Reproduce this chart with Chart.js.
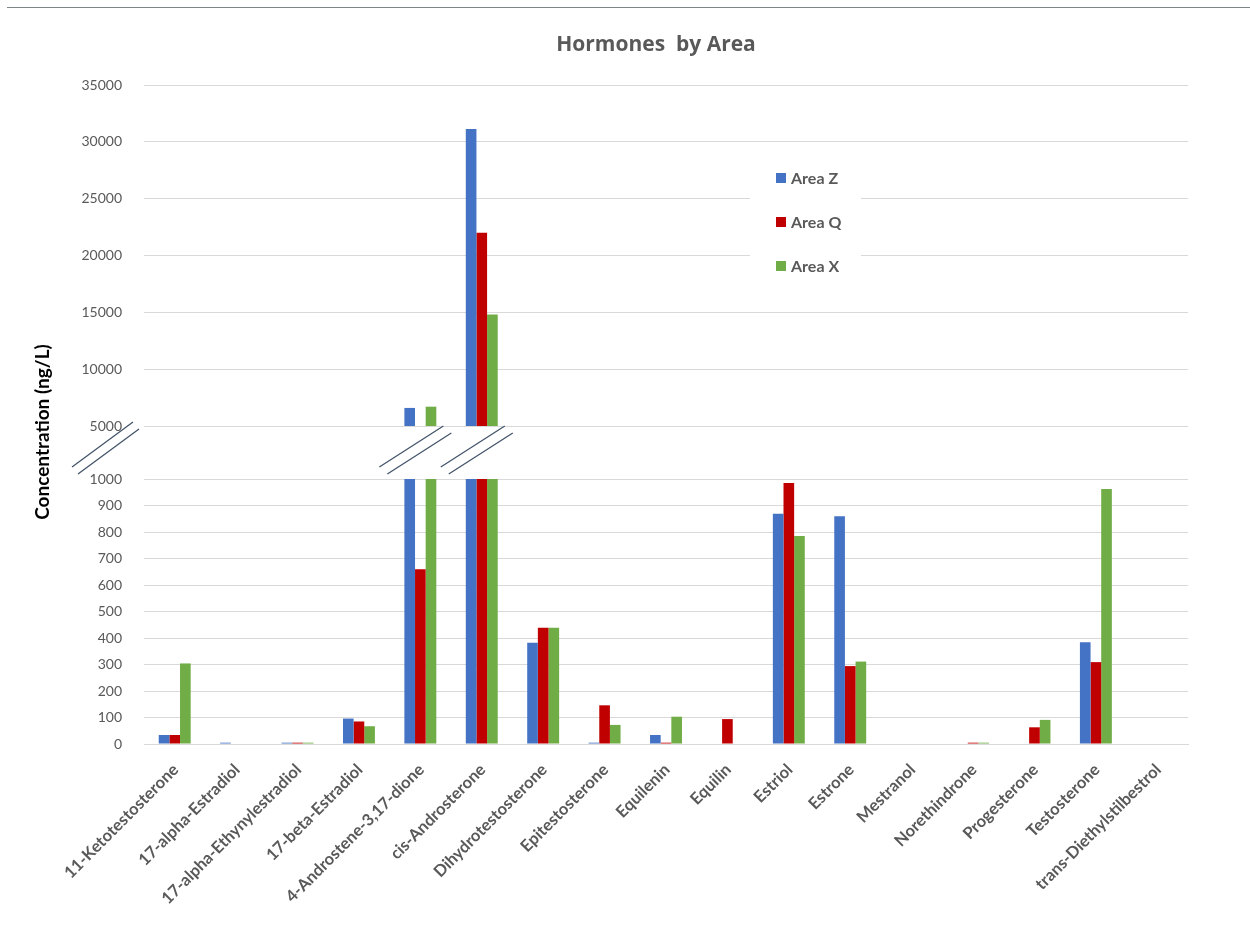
<!DOCTYPE html>
<html>
<head>
<meta charset="utf-8">
<title>Hormones by Area</title>
<script src="https://cdn.jsdelivr.net/npm/chart.js@4.4.1/dist/chart.umd.min.js"></script>
<style>
  html, body { margin: 0; padding: 0; background: #fff; }
  #wrap { position: relative; width: 1250px; height: 932px; overflow: hidden; }
  #wrap canvas { position: absolute; left: 0; top: 0; }
  #rule { position: absolute; left: 7px; right: 0; top: 7px; border-top: 1px solid #7f8487; }
</style>
</head>
<body>
<div id="wrap">
  <div id="rule"></div>
  <canvas id="upperChart" width="1250" height="932"></canvas>
  <canvas id="lowerChart" width="1250" height="932"></canvas>
</div>
<script>
const hormones = [
  "11-Ketotestosterone", "17-alpha-Estradiol", "17-alpha-Ethynylestradiol", "17-beta-Estradiol",
  "4-Androstene-3,17-dione", "cis-Androsterone", "Dihydrotestosterone", "Epitestosterone",
  "Equilenin", "Equilin", "Estriol", "Estrone", "Mestranol", "Norethindrone",
  "Progesterone", "Testosterone", "trans-Diethylstilbestrol"
];

// ng/L per hormone
const areaZ = [34, 5, 5, 96, 6590, 31140, 382, 5, 34, 0, 869, 859, 0, 0, 0, 384, 0];
const areaQ = [34, 0, 5, 85, 659, 22000, 439, 146, 5, 94, 985, 294, 0, 5, 63, 309, 0];
const areaX = [304, 0, 5, 67, 6700, 14800, 439, 72, 103, 0, 785, 311, 0, 5, 91, 962, 0];

const seriesNames = ["Area Z", "Area Q", "Area X"];
const seriesColors = ["#4472C4", "#C00000", "#70AD47"];

// broken axis: lower part 0-1000, upper part 5000-35000
const lowTicks = [0, 100, 200, 300, 400, 500, 600, 700, 800, 900, 1000];
const highTicks = [5000, 10000, 15000, 20000, 25000, 30000, 35000];

Chart.defaults.font.family = "Lato, 'Open Sans', sans-serif";
Chart.defaults.color = "#595959";

const GRID = "#d9d9d9";
const PLOT_LEFT = 144;
const RIGHT_PAD = 62;

function makeDatasets() {
  return [areaZ, areaQ, areaX].map((vals, i) => ({
    label: seriesNames[i],
    data: vals,
    backgroundColor: seriesColors[i],
    borderWidth: 0,
    categoryPercentage: 0.52,
    barPercentage: 1,
    clip: 0
  }));
}

function yScale(ticks) {
  return {
    min: ticks[0],
    max: ticks[ticks.length - 1],
    afterBuildTicks: (scale) => { scale.ticks = ticks.map((v) => ({ value: v })); },
    afterFit: (scale) => { scale.width = PLOT_LEFT; },
    ticks: { font: { size: 14 }, color: "#595959", padding: 22, callback: (v) => String(v) },
    grid: { color: GRID, lineWidth: 1, drawTicks: false },
    border: { display: false }
  };
}

// title is centred over the plot plus the axis labels, not the whole canvas
const plotTitle = {
  id: "plotTitle",
  afterDraw(chart, args, opts) {
    const ctx = chart.ctx;
    ctx.save();
    ctx.font = "bold 21px 'Open Sans', Lato, sans-serif";
    ctx.fillStyle = "#595959";
    ctx.textAlign = "center";
    ctx.textBaseline = "middle";
    ctx.fillText(opts.text, (opts.left + chart.chartArea.right) / 2, opts.y);
    ctx.restore();
  }
};

// legend in a white box sitting over the upper grid
const boxLegend = {
  id: "boxLegend",
  afterDraw(chart, args, opts) {
    const ctx = chart.ctx;
    ctx.save();
    ctx.fillStyle = "#fff";
    ctx.fillRect(opts.x, opts.y, opts.width, opts.height);
    ctx.font = "bold 16px Lato";
    ctx.textBaseline = "middle";
    chart.data.datasets.forEach((ds, i) => {
      const cy = opts.firstRow + i * opts.rowGap;
      ctx.fillStyle = ds.backgroundColor;
      ctx.fillRect(opts.x + 26, cy - 5, 10, 10);
      ctx.fillStyle = "#595959";
      ctx.fillText(ds.label, opts.x + 41, cy + 1);
    });
    ctx.restore();
  }
};

// break marks on the axis and on bars running past the lower range, plus the y title
const axisBreaks = {
  id: "axisBreaks",
  afterDraw(chart) {
    const ctx = chart.ctx;
    const area = chart.chartArea;
    const xs = chart.scales.x;
    const top = area.top;
    const lowMax = lowTicks[lowTicks.length - 1];

    function pair(x1, y1, x2, y2, dx, dy) {
      ctx.beginPath();
      ctx.moveTo(x1, y1); ctx.lineTo(x2, y2);
      ctx.moveTo(x1 + dx, y1 + dy); ctx.lineTo(x2 + dx, y2 + dy);
      ctx.stroke();
    }

    ctx.save();
    ctx.strokeStyle = "#44546A";
    ctx.lineWidth = 1.3;
    pair(area.left - 72, top - 12, area.left - 11, top - 57, 6, 7);
    hormones.forEach((h, i) => {
      if (Math.max(areaZ[i], areaQ[i], areaX[i]) > lowMax) {
        const cx = xs.getPixelForValue(i);
        pair(cx - 41, top - 12, cx + 23, top - 53, 8, 7);
      }
    });
    ctx.restore();

    ctx.save();
    ctx.translate(43, 432);
    ctx.rotate(-Math.PI / 2);
    ctx.font = "bold 19px Lato";
    ctx.fillStyle = "#000";
    ctx.textAlign = "center";
    ctx.textBaseline = "middle";
    ctx.fillText("Concentration (ng/L)", 0, 0);
    ctx.restore();
  }
};

const upper = new Chart(document.getElementById("upperChart"), {
  type: "bar",
  data: { labels: hormones, datasets: makeDatasets() },
  options: {
    responsive: false,
    animation: false,
    layout: { padding: { left: 0, right: RIGHT_PAD, top: 85, bottom: 932 - 426 } },
    scales: {
      x: { display: false },
      y: yScale(highTicks)
    },
    plugins: {
      legend: { display: false },
      tooltip: { enabled: false },
      plotTitle: { text: "Hormones  by Area", left: 124, y: 45 },
      boxLegend: { x: 750, y: 160, width: 111, height: 125, firstRow: 178, rowGap: 44 }
    }
  },
  plugins: [plotTitle, boxLegend]
});

const lower = new Chart(document.getElementById("lowerChart"), {
  type: "bar",
  data: { labels: hormones, datasets: makeDatasets() },
  options: {
    responsive: false,
    animation: false,
    layout: { padding: { left: 0, right: RIGHT_PAD, top: 479, bottom: 0 } },
    scales: {
      x: {
        afterFit: (scale) => { scale.height = 932 - 744; },
        grid: { display: false, drawTicks: false },
        border: { display: true, color: GRID, width: 1 },
        ticks: {
          autoSkip: false,
          minRotation: 45,
          maxRotation: 45,
          padding: 16,
          labelOffset: 1,
          font: { size: 16.5, weight: "bold" },
          color: "#595959"
        }
      },
      y: yScale(lowTicks)
    },
    plugins: {
      legend: { display: false },
      tooltip: { enabled: false }
    }
  },
  plugins: [axisBreaks]
});
</script>
</body>
</html>
